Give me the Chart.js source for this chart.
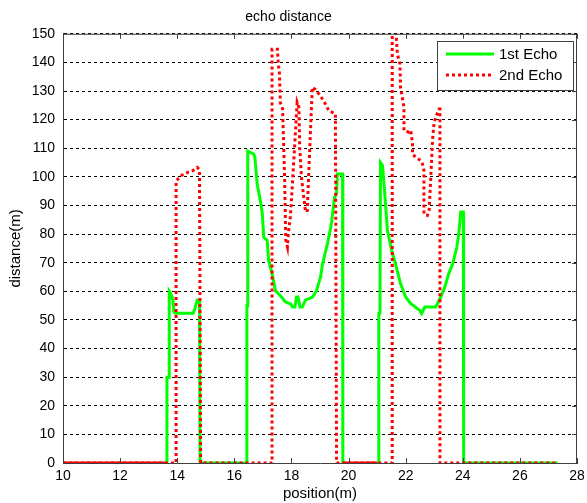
<!DOCTYPE html>
<html>
<head>
<meta charset="utf-8">
<script src="https://cdn.jsdelivr.net/npm/chart.js@4/dist/chart.umd.min.js"></script>
<style>
    html, body { margin: 0; padding: 0; background: #fff; }
</style>
</head>
<body>
<canvas id="echoChart" width="587" height="503"></canvas>
<script>
// values (position in m, distance in m)
const echo1X = [10, 13.64, 13.64, 13.72, 13.72, 13.78, 13.85, 13.88, 13.93, 14.56, 14.62, 14.70, 14.78, 14.80,
    16.44, 16.44, 16.47, 16.47, 16.68, 16.72, 16.80, 16.91, 16.98, 17.03, 17.15, 17.20, 17.32, 17.44, 17.65, 17.79,
    17.98, 18.04, 18.12, 18.18, 18.23, 18.30, 18.38, 18.49, 18.74, 18.88, 19.02, 19.09, 19.26, 19.40, 19.51, 19.58,
    19.61, 19.79, 19.80,
    21.06, 21.06, 21.10, 21.12, 21.19, 21.26, 21.36, 21.51, 21.61, 21.82, 22.00, 22.18, 22.49, 22.56, 22.67, 23.05,
    23.23, 23.37, 23.51, 23.65, 23.79, 23.86, 23.93, 24.02, 24.03, 27.32]
const echo1Y = [0, 0, 30, 30, 60, 59, 57, 53, 52.3, 52.3, 54, 57, 57, 0,
    0, 55, 55, 109, 108, 106.8, 97.5, 91.7, 87.2, 78.9, 77.8, 70.8, 66.3, 60.3, 58, 56.3,
    55.5, 54.5, 54.5, 58, 58, 54.5, 54.5, 56.9, 58, 60.3, 65, 69.7, 76.6, 83.6, 92.9, 94.1,
    101, 101, 0,
    0, 52.3, 52.3, 105, 104, 95.2, 81.3, 74.3, 70.8, 62.7, 58, 55.7, 53.4, 52.2, 54.5, 54.5,
    58, 61.5, 66.2, 69.7, 75.4, 80.1, 87.7, 87.7, 0, 0]

const echo2X = [10, 13.96, 13.96, 14.05, 14.15, 14.35, 14.55, 14.70, 14.78, 14.82,
    17.32, 17.32, 17.51, 17.54, 17.58, 17.61, 17.69, 17.76, 17.80, 17.86, 17.89, 17.96, 18.02, 18.20, 18.26, 18.29,
    18.35, 18.44, 18.49, 18.55, 18.73, 18.84, 18.96, 19.13, 19.31, 19.54, 19.58,
    21.53, 21.53, 21.65, 21.71, 21.80, 21.82, 21.88, 21.94, 21.94, 22.12, 22.18, 22.24, 22.24, 22.35, 22.53, 22.59,
    22.64, 22.64, 22.76, 22.82, 22.88, 22.94, 22.99, 23.05, 23.17, 23.20, 23.20, 27.32]
const echo2Y = [0, 0, 98.5, 99.5, 100.5, 101.5, 102.2, 103.3, 102.5, 0,
    0, 144.6, 144.6, 139.4, 136, 126, 123.8, 100, 78, 75.5, 80.2, 85.9, 95.2, 126, 124.3, 110,
    100, 92, 88.2, 87.7, 131.3, 130.5, 129, 126.6, 123.1, 122, 0,
    0, 152, 152, 142.9, 139.4, 131.3, 127.8, 124.3, 116.2, 115.6, 116.2, 111.5, 108, 106.8, 105.7, 104.5,
    102.2, 87.1, 86.5, 88.2, 99.9, 112.7, 118.5, 120.8, 123.7, 123.7, 0, 0]

const xTicks = [10, 12, 14, 16, 18, 20, 22, 24, 26, 28]
const yTicks = [0, 10, 20, 30, 40, 50, 60, 70, 80, 90, 100, 110, 120, 130, 140, 150]

const font = 'Liberation Sans, Arial, sans-serif'
const axisColor = '#404040'
const green = '#00ff00'
const red = '#ff0000'

const toPoints = (xs, ys) => xs.map((x, i) => ({ x, y: ys[i] }))

// in the original the zero line shows solid red where the first echo is idle before a jump
const zeroLineColor = ctx => {
    const a = ctx.p0.parsed, b = ctx.p1.parsed
    if (a.y === 0 && b.y === 0 && ((a.x === 10 && b.x === 13.64) || (a.x === 19.80 && b.x === 21.06))) return red
    return green
}

// box around the plot, inward ticks and the legend box
const framePlugin = {
    id: 'frame',
    afterDraw(chart) {
        const { ctx, chartArea: a, scales } = chart
        ctx.save()
        ctx.strokeStyle = axisColor
        ctx.lineWidth = 1
        ctx.beginPath()
        ctx.moveTo(a.left, a.top + 0.5)
        ctx.lineTo(a.right - 0.5, a.top + 0.5)
        ctx.lineTo(a.right - 0.5, a.bottom)
        xTicks.forEach(v => {
            const x = Math.round(scales.x.getPixelForValue(v)) + 0.5
            ctx.moveTo(x, a.bottom)
            ctx.lineTo(x, a.bottom - 5)
            ctx.moveTo(x, a.top)
            ctx.lineTo(x, a.top + 5)
        })
        yTicks.forEach(v => {
            const y = Math.round(scales.y.getPixelForValue(v)) + 0.5
            ctx.moveTo(a.right, y)
            ctx.lineTo(a.right - 5, y)
        })
        ctx.stroke()

        // legend
        const lx = 437, ly = 41, lw = 136, lh = 49
        ctx.fillStyle = '#fff'
        ctx.fillRect(lx, ly, lw, lh)
        ctx.strokeStyle = axisColor
        ctx.strokeRect(lx + 0.5, ly + 0.5, lw, lh)
        chart.data.datasets.forEach((ds, i) => {
            const y = ly + 13 + i * 21
            ctx.beginPath()
            ctx.strokeStyle = ds.borderColor
            ctx.lineWidth = 3
            ctx.setLineDash(ds.borderDash || [])
            ctx.moveTo(446, y)
            ctx.lineTo(494, y)
            ctx.stroke()
            ctx.setLineDash([])
            ctx.fillStyle = '#000'
            ctx.font = '15px ' + font
            ctx.textBaseline = 'middle'
            ctx.fillText(ds.label, 499, y + 1)
        })
        ctx.restore()
    }
}

new Chart(document.getElementById('echoChart').getContext('2d'), {
    type: 'line',
    data: {
        datasets: [{
            label: '1st Echo',
            data: toPoints(echo1X, echo1Y),
            borderColor: green,
            borderWidth: 3,
            pointRadius: 0,
            tension: 0,
            segment: { borderColor: zeroLineColor },
            order: 1,
        }, {
            label: '2nd Echo',
            data: toPoints(echo2X, echo2Y),
            borderColor: red,
            borderWidth: 3,
            borderDash: [3, 3],
            pointRadius: 0,
            tension: 0,
            order: 0,
        }]
    },
    options: {
        responsive: false,
        animation: false,
        layout: { padding: { left: 0, right: 10, top: 0, bottom: 0 } },
        plugins: {
            legend: { display: false },
            tooltip: { enabled: false },
            title: {
                display: true,
                text: 'echo distance',
                color: '#000',
                font: { family: font, size: 14, weight: 'normal' },
                padding: { top: 9, bottom: 8 },
            }
        },
        scales: {
            x: {
                type: 'linear',
                min: 10,
                max: 28,
                afterBuildTicks: s => { s.ticks = xTicks.map(v => ({ value: v })) },
                afterFit: s => { s.height = 40; s.paddingLeft = 0; s.paddingRight = 0 },
                ticks: { color: '#000', font: { family: font, size: 14 }, padding: 5, maxRotation: 0 },
                grid: { display: false, drawTicks: false },
                border: { color: axisColor, width: 1 },
                title: {
                    display: true,
                    text: 'position(m)',
                    color: '#000',
                    font: { family: font, size: 15 },
                    padding: { top: 0, bottom: 0 },
                }
            },
            y: {
                min: 0,
                max: 150,
                afterBuildTicks: s => { s.ticks = yTicks.map(v => ({ value: v })) },
                afterFit: s => { s.width = 63 },
                ticks: { color: '#000', font: { family: font, size: 14 }, padding: 8 },
                grid: { color: '#000', drawTicks: false },
                border: { color: axisColor, width: 1, dash: [3, 3] },
                title: {
                    display: true,
                    text: 'distance(m)',
                    color: '#000',
                    font: { family: font, size: 15 },
                    padding: { top: 7, bottom: 0 },
                }
            }
        }
    },
    plugins: [framePlugin]
})
</script>
</body>
</html>
